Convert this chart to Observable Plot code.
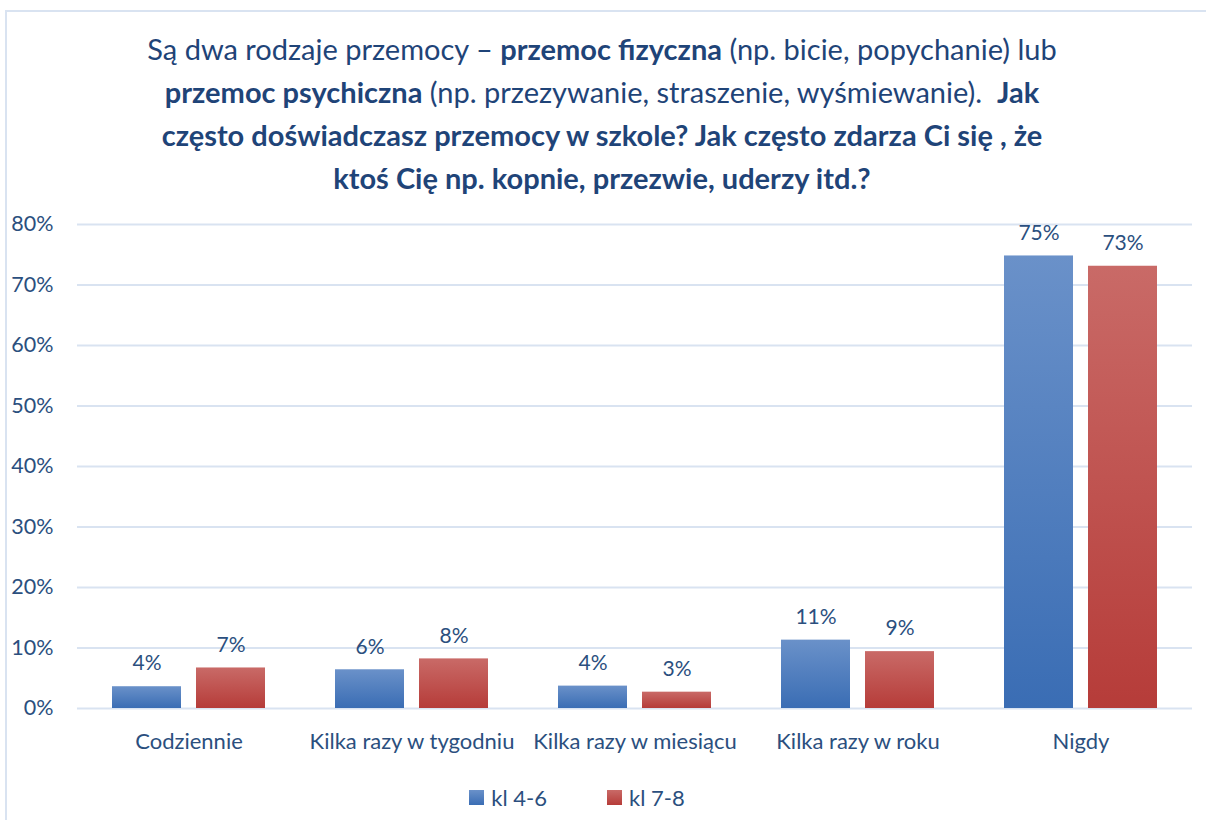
<!DOCTYPE html>
<html><head><meta charset="utf-8">
<script src="https://cdn.jsdelivr.net/npm/d3@7"></script>
<script src="https://cdn.jsdelivr.net/npm/@observablehq/plot@0.6"></script>
<style>
html,body{margin:0;padding:0;background:#fff;}
body{width:1206px;height:820px;position:relative;overflow:hidden;font-family:Lato,"Open Sans",sans-serif;}
#frame{position:absolute;left:5px;top:10px;width:1210px;height:820px;border-left:2px solid #d9e3f1;border-top:2px solid #d9e3f1;}
#title{position:absolute;left:-8px;top:27px;width:1220px;text-align:center;color:#1f4478;font-size:29px;line-height:43px;}
#title b{font-weight:700;}
#chart{position:absolute;left:0;top:200px;}
#legend{position:absolute;top:783px;left:-26px;width:1206px;text-align:center;font-size:22px;color:#2b4f7e;}
.item{display:inline-flex;align-items:center;margin:0 60px 0 0;}
.item:last-child{margin-right:0;}
.sw{width:15px;height:15px;margin-right:7px;display:inline-block;}
</style></head>
<body>
<div id="frame"></div>
<div id="title">Są dwa rodzaje przemocy – <b>przemoc fizyczna</b> (np. bicie, popychanie) lub<br><b>przemoc psychiczna</b> (np. przezywanie, straszenie, wyśmiewanie). &nbsp;<b>Jak</b><br><b>często doświadczasz przemocy w szkole? Jak często zdarza Ci się , że</b><br><b>ktoś Cię np. kopnie, przezwie, uderzy itd.?</b></div>
<div id="chart"></div>
<div id="legend"></div>
<script>
const categories = ["Codziennie", "Kilka razy w tygodniu", "Kilka razy w miesiącu", "Kilka razy w roku", "Nigdy"];
const seriesNames = ["kl 4-6", "kl 7-8"];
const values46 = [3.6, 6.4, 3.7, 11.3, 74.8];
const values78 = [6.7, 8.2, 2.7, 9.4, 73.1];
const yTicks = [0, 10, 20, 30, 40, 50, 60, 70, 80];
const colors = ["url(#gBlue)", "url(#gRed)"];

const data = [];
categories.forEach((c, i) => {
  data.push({cat: c, series: seriesNames[0], value: values46[i]});
  data.push({cat: c, series: seriesNames[1], value: values78[i]});
});

const textColor = "#2b4f7e";
const chart = Plot.plot({
  width: 1206,
  height: 560,
  marginLeft: 77,
  marginRight: 14,
  marginTop: 24,
  marginBottom: 52,
  style: {fontFamily: "Lato, 'Open Sans', sans-serif", fontSize: "21px", color: textColor, background: "transparent"},
  fx: {domain: categories, padding: 0, label: null},
  x: {domain: seriesNames, paddingInner: 0.176, paddingOuter: 0.4, axis: null},
  y: {domain: [0, 80], label: null},
  color: {domain: seriesNames, range: colors},
  marks: [
    Plot.gridY(yTicks, {stroke: "#d9e3f1", strokeOpacity: 1, strokeWidth: 2}),
    Plot.axisY(yTicks, {tickSize: 0, tickPadding: 24, tickFormat: d => d + "%", label: null, fontSize: 21.5}),
    Plot.axisFx({anchor: "bottom", tickSize: 0, tickPadding: 25, label: null, fontSize: 22}),
    Plot.barY(data, {fx: "cat", x: "series", y: "value", fill: "series"}),
    Plot.text(data, {fx: "cat", x: "series", y: "value", text: d => d3.format(".0f")(d.value) + "%", dy: -23, fill: textColor, fontSize: 21})
  ]
});

const defs = d3.select(chart).insert("defs", ":first-child");
function grad(id, top, bottom) {
  const g = defs.append("linearGradient").attr("id", id).attr("x1", 0).attr("y1", 0).attr("x2", 0).attr("y2", 1);
  g.append("stop").attr("offset", "0%").attr("stop-color", top);
  g.append("stop").attr("offset", "100%").attr("stop-color", bottom);
}
grad("gBlue", "#6a91c9", "#3a6db4");
grad("gRed", "#c96a67", "#b63c39");
document.getElementById("chart").appendChild(chart);

const legend = document.getElementById("legend");
const legendColors = ["linear-gradient(#6a91c9,#3a6db4)", "linear-gradient(#c96a67,#b63c39)"];
seriesNames.forEach((s, i) => {
  const it = document.createElement("span");
  it.className = "item";
  it.innerHTML = `<span class="sw" style="background:${legendColors[i]}"></span>${s}`;
  legend.appendChild(it);
});
</script>
</body></html>
